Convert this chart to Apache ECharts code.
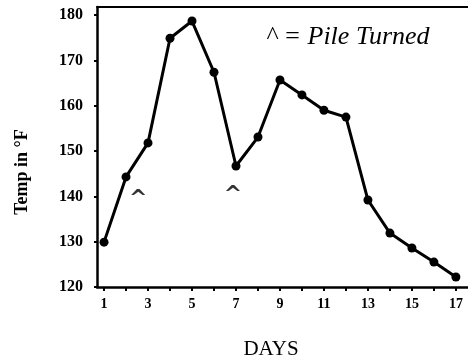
<!DOCTYPE html>
<html>
<head>
<meta charset="utf-8">
<script src="https://cdn.jsdelivr.net/npm/echarts@6/dist/echarts.min.js"></script>
<style>html,body{margin:0;padding:0;background:#fff;}#c{width:468px;height:360px;}</style>
</head>
<body>
<div id="c"></div>
<script>
const days = [1,2,3,4,5,6,7,8,9,10,11,12,13,14,15,16,17];
const temps = [129.9,144.3,151.8,174.9,178.7,167.4,146.7,153.1,165.7,162.4,159.0,157.5,139.2,131.9,128.6,125.5,122.2];
const xTickValues = [1,2,3,4,5,6,7,8,9,10,11,12,13,14,15,16,17];
const xLabelValues = [1,3,5,7,9,11,13,15,17];
const yTickValues = [120,130,140,150,160,170,180];
const turnDays = [2.55, 6.86];
const turnTemps = [139.4, 140.2];
const legendText = '^ = Pile Turned';
const xTitle = 'DAYS';
const yTitle = 'Temp in °F';

const serif = '"Liberation Serif", "DejaVu Serif", serif';
const chart = echarts.init(document.getElementById('c'), null, {renderer:'canvas'});
chart.setOption({
  backgroundColor:'#fff',
  animation:false,
  grid:{left:97, right:0, top:7, bottom:73},
  xAxis:[{
    type:'value', min:0.68, max:17.55,
    axisLine:{show:true, lineStyle:{color:'#000', width:2.5}},
    axisTick:{show:true, customValues:xTickValues, length:4, lineStyle:{color:'#000', width:2}},
    axisLabel:{show:true, customValues:xLabelValues, margin:10, color:'#000', fontFamily:serif, fontWeight:'bold', fontSize:14},
    splitLine:{show:false}
  },{
    type:'value', position:'top', min:0.68, max:17.55,
    axisLine:{show:true, lineStyle:{color:'#000', width:2}},
    axisTick:{show:false}, axisLabel:{show:false}, splitLine:{show:false}
  }],
  yAxis:{
    type:'value', min:120, max:181.8,
    axisLine:{show:true, lineStyle:{color:'#000', width:2.5}},
    axisTick:{show:true, customValues:yTickValues, length:3, lineStyle:{color:'#000', width:2}},
    axisLabel:{show:true, customValues:yTickValues, margin:14, color:'#000', fontFamily:serif, fontWeight:'bold', fontSize:16},
    splitLine:{show:false}
  },
  series:[{
    type:'line',
    data: days.map((d,i)=>[d, temps[i]]),
    symbol:'circle', symbolSize:9,
    lineStyle:{color:'#000', width:3},
    itemStyle:{color:'#000'}
  },{
    type:'scatter',
    data: turnDays.map((d,i)=>[d, turnTemps[i]]),
    symbolSize:0,
    label:{show:true, position:'inside', formatter:'^', color:'#000', fontFamily:'"DejaVu Sans", sans-serif', fontWeight:'bold', fontSize:22}
  }],
  graphic:[
    {type:'text', left:266, top:24, style:{text:legendText, font:'italic 26px ' + serif, fill:'#000'}},
    {type:'text', x:271, y:349, style:{text:xTitle, font:'21px ' + serif, fill:'#000', align:'center', verticalAlign:'middle'}},
    {type:'text', x:22, y:172, rotation:Math.PI/2, style:{text:yTitle, font:'bold 18px ' + serif, fill:'#000', align:'center', verticalAlign:'middle'}}
  ]
});
</script>
</body>
</html>
